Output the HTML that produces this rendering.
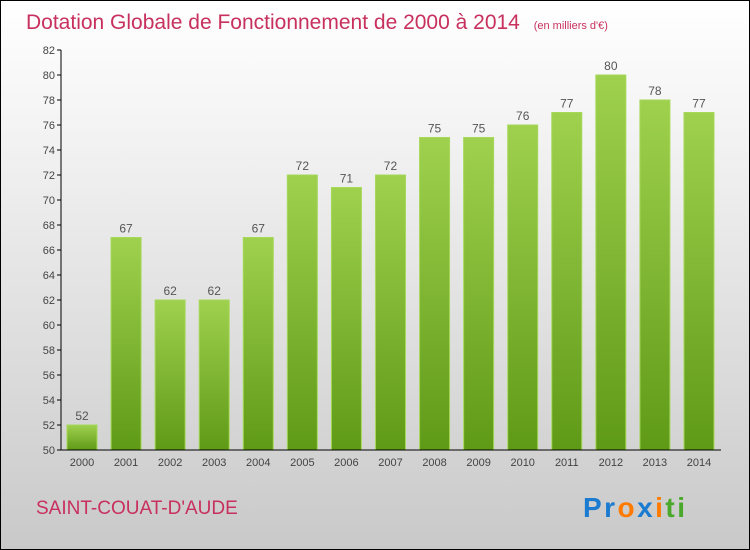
<!DOCTYPE html>
<html><head><meta charset="utf-8"><style>
body{margin:0}
#c{width:750px;height:550px;position:relative;box-sizing:border-box;border:1px solid #000;background:linear-gradient(#fff,#f5f5f5 20%,#c9c9c9);font-family:"Liberation Sans",sans-serif;overflow:hidden}
</style></head><body>
<div id="c">
<svg width="750" height="550" style="position:absolute;left:-1px;top:-1px">
<defs><linearGradient id="g" x1="0" y1="0" x2="0" y2="1"><stop offset="0" stop-color="#9fd14e"/><stop offset="1" stop-color="#5f9a17"/></linearGradient></defs>
<text x="26" y="29" font-size="21" fill="#c8305e">Dotation Globale de Fonctionnement de 2000 à 2014 <tspan font-size="11" dx="8">(en milliers d'€)</tspan></text>
<g id="plot"></g>
<text x="36" y="514" font-size="19" fill="#c8305e">SAINT-COUAT-D'AUDE</text>
<text x="583" y="517" font-size="28" font-weight="bold" textLength="102"><tspan fill="#1a7bd0">Pr</tspan><tspan fill="#ff7b00">o</tspan><tspan fill="#1a7bd0">x</tspan><tspan fill="#ff7b00">i</tspan><tspan fill="#4aa82a">ti</tspan></text>
</svg>
</div>
<script>
const years=["2000","2001","2002","2003","2004","2005","2006","2007","2008","2009","2010","2011","2012","2013","2014"];
const values=[52,67,62,62,67,72,71,72,75,75,76,77,80,78,77];
const ticks=[50,52,54,56,58,60,62,64,66,68,70,72,74,76,78,80,82];
const ns="http://www.w3.org/2000/svg",g=document.getElementById("plot");
const y=v=>450-(v-50)*12.5, x=i=>82+i*44.07;
function mk(t,a,txt){const e=document.createElementNS(ns,t);for(const k in a)e.setAttribute(k,a[k]);if(txt!=null)e.textContent=txt;g.appendChild(e);return e;}
values.forEach((v,i)=>{
const r=mk("rect",{x:x(i)-15,y:y(v),width:30,height:450-y(v),fill:"url(#g)",stroke:"#a6d85a","stroke-width":1});


const l=mk("text",{x:x(i),y:y(v)-5,"text-anchor":"middle","font-size":12,fill:"#555"},v);


const t=mk("text",{x:x(i),y:466,"text-anchor":"middle","font-size":11,fill:"#444"},years[i]);


});
ticks.forEach(v=>{
mk("line",{x1:57,x2:61,y1:y(v),y2:y(v),stroke:"#000"});
const t=mk("text",{x:55,y:y(v)+4,"text-anchor":"end","font-size":11,fill:"#444"},v);


});
const ya=mk("line",{x1:61,x2:61,y1:50,y2:450,stroke:"#000"});


const xa=mk("line",{x1:61,x2:721,y1:450,y2:450,stroke:"#000"});


</script>
</body></html>
